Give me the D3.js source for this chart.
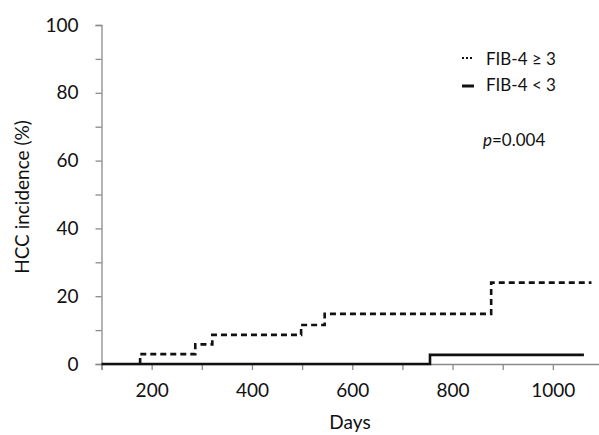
<!DOCTYPE html>
<html>
<head>
<meta charset="utf-8">
<script src="https://cdn.jsdelivr.net/npm/d3@7"></script>
<style>
  body { margin: 0; background: #fff; }
  text { font-family: Lato, "Open Sans", sans-serif; fill: #111; }
</style>
</head>
<body>
<svg id="chart" width="599" height="435"></svg>
<script>
// step curves (days, % incidence after the step)
var highDays = [177, 287, 321, 498, 545, 877, 1077];
var highPct  = [2.9, 5.8, 8.6, 11.5, 14.8, 24, 24];
var lowDays  = [100, 755, 1062];
var lowPct   = [0, 2.7, 2.7];
var yTicks = [0, 20, 40, 60, 80, 100];
var xTicks = [200, 400, 600, 800, 1000];

var svg = d3.select('#chart');
var x = d3.scaleLinear().domain([100, 1100]).range([101.5, 603]);
var y = d3.scaleLinear().domain([0, 100]).range([364, 25]);

// y axis
var yAxis = svg.append('g').attr('transform', 'translate(101.5,0)')
  .call(d3.axisLeft(y).tickValues(d3.range(0, 101, 10)).tickSize(6).tickFormat(function (d) {
    return yTicks.indexOf(d) >= 0 ? d : '';
  }));
// x axis
var xAxis = svg.append('g').attr('transform', 'translate(0,364)')
  .call(d3.axisBottom(x).tickValues(d3.range(100, 1101, 100)).tickSize(6).tickFormat(function (d) {
    return xTicks.indexOf(d) >= 0 ? d : '';
  }));

[yAxis, xAxis].forEach(function (g) {
  g.select('.domain').attr('stroke', '#8a8a8a').attr('stroke-width', 1.3);
  g.selectAll('.tick line').attr('stroke', '#8a8a8a').attr('stroke-width', 1.3);
  g.selectAll('text').style('font-size', '19px').attr('fill', '#111');
});
yAxis.selectAll('text').attr('x', -23);
xAxis.selectAll('text').attr('y', 20);

function steps(days, pct, startAtZero) {
  var pts = [];
  if (startAtZero) pts.push([days[0], 0]);
  days.forEach(function (d, i) { pts.push([d, pct[i]]); });
  return d3.line().x(function (p) { return x(p[0]); }).y(function (p) { return y(p[1]); })
    .curve(d3.curveStepAfter)(pts);
}

svg.append('path').attr('d', steps(lowDays, lowPct, false))
  .attr('fill', 'none').attr('stroke', '#111').attr('stroke-width', 2.6);
svg.append('path').attr('d', steps(highDays, highPct, true))
  .attr('fill', 'none').attr('stroke', '#111').attr('stroke-width', 2.6)
  .attr('stroke-dasharray', '6,4');

// legend
svg.append('path').attr('d', 'M462,58H473').attr('stroke', '#111').attr('stroke-width', 2)
  .attr('stroke-dasharray', '2,2');
svg.append('text').attr('x', 486).attr('y', 65).style('font-size', '17px').text('FIB-4 \u2265 3');
svg.append('path').attr('d', 'M462,86H474').attr('stroke', '#111').attr('stroke-width', 3);
svg.append('text').attr('x', 486).attr('y', 91).style('font-size', '17px').text('FIB-4 < 3');
var p = svg.append('text').attr('x', 483).attr('y', 146).style('font-size', '17px');
p.append('tspan').style('font-style', 'italic').text('p');
p.append('tspan').text('=0.004');

// axis titles
svg.append('text').attr('transform', 'translate(29,197) rotate(-90)')
  .attr('text-anchor', 'middle').style('font-size', '19px').text('HCC incidence (%)');
svg.append('text').attr('x', 350).attr('y', 429)
  .attr('text-anchor', 'middle').style('font-size', '19px').text('Days');
</script>
</body>
</html>
